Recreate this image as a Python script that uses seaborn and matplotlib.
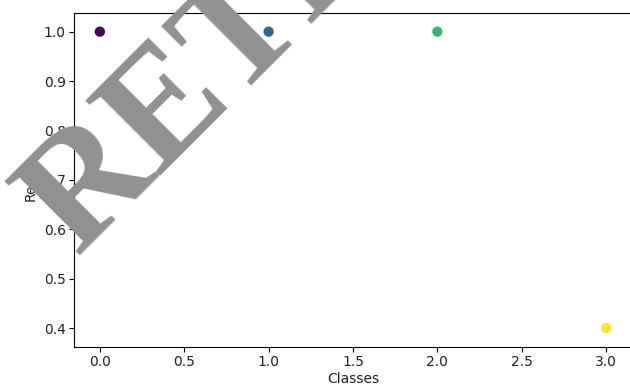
import matplotlib
matplotlib.use("Agg")
import matplotlib.pyplot as plt
import seaborn as sns
import pandas as pd

classes = [0, 1, 2, 3]
recall = [1.0, 1.0, 1.0, 0.4]
x_label = "Classes"
y_label = "Recall"
watermark = "RETRACTED"

df = pd.DataFrame({"Classes": classes, "Recall": recall})

fig = plt.figure(figsize=(6.3, 3.86), dpi=100)
ax = fig.add_axes([74 / 630, 1 - 347 / 386, 558 / 630, (347 - 12.7) / 386])
sns.scatterplot(data=df, x="Classes", y="Recall", hue="Classes", palette="viridis",
                s=55, edgecolor="none", legend=False, ax=ax)
ax.set_xlabel(x_label, labelpad=2, color="#222222")
ax.set_ylabel(y_label, color="#222222")
ax.margins(x=0.051, y=0.064)
ax.tick_params(labelsize=10, pad=2.5, labelcolor="#222222")

fig.text(77 / 630, 1 - 257 / 386, watermark, fontsize=115, family="Liberation Serif",
         weight="bold", color="#919191", rotation=45, rotation_mode="anchor",
         ha="left", va="baseline", zorder=10)

fig.savefig("out.png", dpi=100)
